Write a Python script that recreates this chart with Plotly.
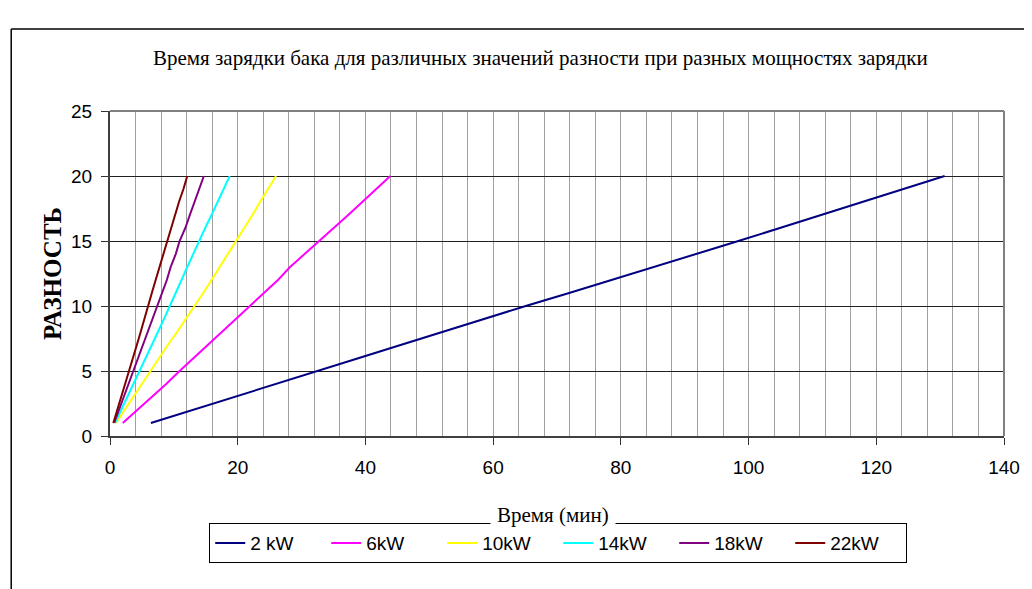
import plotly.graph_objects as go

raznost = list(range(1, 21))

t_2kw = [6.4, 13.0, 19.5, 26.0, 32.5, 39.0, 45.5, 52.0, 58.6, 65.1, 71.9, 78.6, 85.0, 91.7, 98.4, 104.9, 111.4, 117.9, 124.3, 130.7]
t_6kw = [2.0, 4.3, 6.6, 8.8, 10.9, 13.1, 15.3, 17.4, 19.6, 21.8, 24.1, 26.3, 28.2, 30.5, 32.8, 35.0, 37.3, 39.5, 41.7, 43.9]
t_10kw = [0.94, 2.3, 3.6, 4.9, 6.25, 7.65, 9.05, 10.5, 11.9, 13.3, 14.6, 15.9, 17.2, 18.5, 19.8, 21.0, 22.3, 23.5, 24.8, 26.0]
t_14kw = [0.78, 1.75, 2.7, 3.7, 4.7, 5.6, 6.55, 7.5, 8.45, 9.4, 10.3, 11.2, 12.1, 13.0, 13.95, 14.9, 15.9, 16.9, 17.8, 18.75]
t_18kw = [0.65, 1.4, 2.1, 2.9, 3.65, 4.4, 5.2, 5.9, 6.6, 7.4, 8.1, 8.9, 9.5, 10.3, 10.9, 11.8, 12.5, 13.2, 14.0, 14.7]
t_22kw = [0.52, 1.15, 1.75, 2.4, 3.0, 3.6, 4.2, 4.8, 5.35, 5.9, 6.55, 7.15, 7.75, 8.35, 8.96, 9.6, 10.2, 10.8, 11.5, 12.1]

series_names = ["2 kW", "6kW", "10kW", "14kW", "18kW", "22kW"]
series_times = [t_2kw, t_6kw, t_10kw, t_14kw, t_18kw, t_22kw]
series_colors = ["#000080", "#FF00FF", "#FFFF00", "#00FFFF", "#800080", "#800000"]

title_text = "Время зарядки бака для различных значений разности при разных мощностях зарядки"
x_title = "Время (мин)"
y_title = "РАЗНОСТЬ"

fig = go.Figure()
for name, times, color in zip(series_names, series_times, series_colors):
    fig.add_trace(go.Scatter(x=times, y=raznost, mode="lines", name=name,
                             line=dict(color=color, width=2)))

fig.update_layout(
    width=1024, height=581,
    margin=dict(l=102, r=26, t=103, b=153),
    paper_bgcolor="white", plot_bgcolor="white",
    showlegend=True,
    legend=dict(orientation="h", x=0.111, y=-0.268, xanchor="left", yanchor="top",
                bordercolor="black", borderwidth=1, bgcolor="white",
                font=dict(family="Liberation Sans", size=19, color="black"),
                entrywidth=71, entrywidthmode="pixels", tracegroupgap=0),
    annotations=[
        dict(text=title_text, xref="paper", yref="paper", x=0.481, y=1.163,
             showarrow=False, xanchor="center", yanchor="middle",
             font=dict(family="Liberation Serif", size=21, color="black")),
        dict(text=x_title, xref="paper", yref="paper", x=0.4955, y=-0.243,
             showarrow=False, xanchor="center", yanchor="middle", bgcolor="white",
             borderpad=6,
             font=dict(family="Liberation Serif", size=21, color="black")),
    ],
    shapes=[
        dict(type="line", xref="paper", yref="paper", x0=-0.1105, x1=1.2, y0=1.2523, y1=1.2523,
             line=dict(color="black", width=1.5)),
        dict(type="line", xref="paper", yref="paper", x0=-0.1105, x1=-0.1105, y0=1.2523, y1=-0.6,
             line=dict(color="black", width=1.5)),
    ],
)

fig.update_xaxes(range=[0, 140], dtick=20, tick0=0,
                 showgrid=True, gridcolor="#a0a0a0", gridwidth=1,
                 minor=dict(dtick=4, tick0=0, showgrid=True, gridcolor="#a0a0a0", gridwidth=1, ticks=""),
                 ticks="outside", ticklen=7, tickcolor="#333333", tickwidth=1,
                 ticklabelstandoff=6,
                 showline=True, linecolor="#404040", linewidth=2, mirror=False,
                 tickfont=dict(family="Liberation Sans", size=19, color="black"),
                 zeroline=False)
fig.update_yaxes(range=[0, 25], dtick=5, tick0=0,
                 showgrid=True, gridcolor="#202020", gridwidth=1,
                 ticks="outside", ticklen=7, tickcolor="#333333", tickwidth=1,
                 ticklabelstandoff=5,
                 showline=True, linecolor="#404040", linewidth=2,
                 tickfont=dict(family="Liberation Sans", size=19, color="black"),
                 title=dict(text="<b>" + y_title + "</b>", standoff=2,
                            font=dict(family="Liberation Serif", size=25, color="black")),
                 zeroline=False)

# top and right plot border (gray)
fig.add_shape(type="line", xref="paper", yref="paper", x0=0, x1=1, y0=1, y1=1,
              line=dict(color="#808080", width=2))
fig.add_shape(type="line", xref="paper", yref="paper", x0=1, x1=1, y0=0, y1=1,
              line=dict(color="#808080", width=2))

fig.write_html("out.html")
